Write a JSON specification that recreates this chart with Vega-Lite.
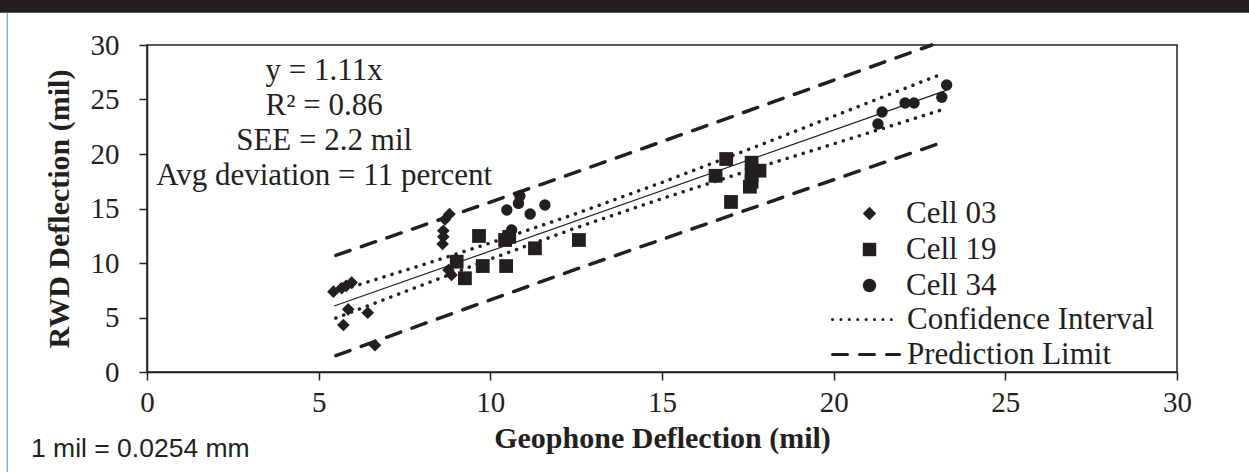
{
  "$schema": "https://vega.github.io/schema/vega-lite/v6.json",
  "width": 1030,
  "height": 327,
  "autosize": {"type": "none"},
  "padding": {"left": 147, "top": 45, "right": 72, "bottom": 100},
  "background": "white",
  "config": {
    "view": {"stroke": "#231f20", "strokeWidth": 1.5},
    "font": "Liberation Serif",
    "axis": {
      "grid": false,
      "domainColor": "#231f20",
      "domainWidth": 1.5,
      "tickColor": "#231f20",
      "tickWidth": 1.5,
      "tickSize": 8,
      "labelFont": "Liberation Serif",
      "labelFontSize": 29,
      "labelColor": "#231f20",
      "titleFont": "Liberation Serif",
      "titleFontSize": 30,
      "titleFontWeight": "bold",
      "titleColor": "#231f20"
    },
    "legend": {
      "labelFont": "Liberation Serif",
      "labelFontSize": 31,
      "labelColor": "#231f20",
      "labelLimit": 400,
      "title": null
    }
  },
  "datasets": {
    "points": [
      {"cell": "Cell 03", "geophone": 5.43, "rwd": 7.37},
      {"cell": "Cell 03", "geophone": 5.67, "rwd": 7.7},
      {"cell": "Cell 03", "geophone": 5.8, "rwd": 7.9},
      {"cell": "Cell 03", "geophone": 5.96, "rwd": 8.2},
      {"cell": "Cell 03", "geophone": 5.86, "rwd": 5.75},
      {"cell": "Cell 03", "geophone": 6.43, "rwd": 5.44},
      {"cell": "Cell 03", "geophone": 5.72, "rwd": 4.31},
      {"cell": "Cell 03", "geophone": 6.64, "rwd": 2.45},
      {"cell": "Cell 03", "geophone": 8.81, "rwd": 14.5},
      {"cell": "Cell 03", "geophone": 8.68, "rwd": 14.0},
      {"cell": "Cell 03", "geophone": 8.63, "rwd": 12.96},
      {"cell": "Cell 03", "geophone": 8.63, "rwd": 12.4},
      {"cell": "Cell 03", "geophone": 8.61, "rwd": 11.74},
      {"cell": "Cell 03", "geophone": 8.78, "rwd": 9.36},
      {"cell": "Cell 03", "geophone": 8.87, "rwd": 8.9},
      {"cell": "Cell 19", "geophone": 9.02, "rwd": 10.12},
      {"cell": "Cell 19", "geophone": 9.26, "rwd": 8.6},
      {"cell": "Cell 19", "geophone": 9.67, "rwd": 12.48},
      {"cell": "Cell 19", "geophone": 9.78, "rwd": 9.72},
      {"cell": "Cell 19", "geophone": 10.46, "rwd": 9.72},
      {"cell": "Cell 19", "geophone": 10.43, "rwd": 12.11},
      {"cell": "Cell 19", "geophone": 10.55, "rwd": 12.4},
      {"cell": "Cell 19", "geophone": 11.3, "rwd": 11.35},
      {"cell": "Cell 19", "geophone": 12.58, "rwd": 12.11},
      {"cell": "Cell 19", "geophone": 16.56, "rwd": 18.0},
      {"cell": "Cell 19", "geophone": 16.87, "rwd": 19.54},
      {"cell": "Cell 19", "geophone": 17.01, "rwd": 15.6},
      {"cell": "Cell 19", "geophone": 17.56, "rwd": 17.0},
      {"cell": "Cell 19", "geophone": 17.61, "rwd": 17.46},
      {"cell": "Cell 19", "geophone": 17.61, "rwd": 18.07},
      {"cell": "Cell 19", "geophone": 17.61, "rwd": 19.2},
      {"cell": "Cell 19", "geophone": 17.84, "rwd": 18.47},
      {"cell": "Cell 34", "geophone": 10.48, "rwd": 14.86},
      {"cell": "Cell 34", "geophone": 10.62, "rwd": 13.03},
      {"cell": "Cell 34", "geophone": 10.82, "rwd": 15.47},
      {"cell": "Cell 34", "geophone": 10.86, "rwd": 16.15},
      {"cell": "Cell 34", "geophone": 11.16, "rwd": 14.5},
      {"cell": "Cell 34", "geophone": 11.59, "rwd": 15.32},
      {"cell": "Cell 34", "geophone": 21.29, "rwd": 22.75},
      {"cell": "Cell 34", "geophone": 21.41, "rwd": 23.85},
      {"cell": "Cell 34", "geophone": 22.08, "rwd": 24.68},
      {"cell": "Cell 34", "geophone": 22.34, "rwd": 24.68},
      {"cell": "Cell 34", "geophone": 23.15, "rwd": 25.2},
      {"cell": "Cell 34", "geophone": 23.29, "rwd": 26.33}
    ],
    "fit": [
      {"geophone": 5.45, "rwd": 6.05},
      {"geophone": 23.3, "rwd": 25.86}
    ],
    "bands": [
      {"series": "Confidence Interval", "part": "CI upper", "geophone": 5.5, "rwd": 7.35},
      {"series": "Confidence Interval", "part": "CI upper", "geophone": 8, "rwd": 9.8},
      {"series": "Confidence Interval", "part": "CI upper", "geophone": 10, "rwd": 11.84},
      {"series": "Confidence Interval", "part": "CI upper", "geophone": 12.5, "rwd": 14.53},
      {"series": "Confidence Interval", "part": "CI upper", "geophone": 15, "rwd": 17.39},
      {"series": "Confidence Interval", "part": "CI upper", "geophone": 18, "rwd": 21.0},
      {"series": "Confidence Interval", "part": "CI upper", "geophone": 21, "rwd": 24.7},
      {"series": "Confidence Interval", "part": "CI upper", "geophone": 23.2, "rwd": 27.4},
      {"series": "Confidence Interval", "part": "CI lower", "geophone": 5.5, "rwd": 4.95},
      {"series": "Confidence Interval", "part": "CI lower", "geophone": 8, "rwd": 7.96},
      {"series": "Confidence Interval", "part": "CI lower", "geophone": 10, "rwd": 10.36},
      {"series": "Confidence Interval", "part": "CI lower", "geophone": 12.5, "rwd": 13.23},
      {"series": "Confidence Interval", "part": "CI lower", "geophone": 15, "rwd": 15.91},
      {"series": "Confidence Interval", "part": "CI lower", "geophone": 18, "rwd": 18.96},
      {"series": "Confidence Interval", "part": "CI lower", "geophone": 21, "rwd": 21.92},
      {"series": "Confidence Interval", "part": "CI lower", "geophone": 23.2, "rwd": 24.1},
      {"series": "Prediction Limit", "part": "PI upper", "geophone": 5.5, "rwd": 10.7},
      {"series": "Prediction Limit", "part": "PI upper", "geophone": 9, "rwd": 14.49},
      {"series": "Prediction Limit", "part": "PI upper", "geophone": 12.5, "rwd": 18.33},
      {"series": "Prediction Limit", "part": "PI upper", "geophone": 16, "rwd": 22.26},
      {"series": "Prediction Limit", "part": "PI upper", "geophone": 19.5, "rwd": 26.2},
      {"series": "Prediction Limit", "part": "PI upper", "geophone": 22.86, "rwd": 30.0},
      {"series": "Prediction Limit", "part": "PI lower", "geophone": 5.5, "rwd": 1.5},
      {"series": "Prediction Limit", "part": "PI lower", "geophone": 9, "rwd": 5.49},
      {"series": "Prediction Limit", "part": "PI lower", "geophone": 12.5, "rwd": 9.43},
      {"series": "Prediction Limit", "part": "PI lower", "geophone": 16, "rwd": 13.26},
      {"series": "Prediction Limit", "part": "PI lower", "geophone": 19.5, "rwd": 17.1},
      {"series": "Prediction Limit", "part": "PI lower", "geophone": 23.2, "rwd": 21.1}
    ]
  },
  "layer": [
    {
      "data": {"values": [{}]},
      "mark": {"type": "rect", "color": "#231f20", "clip": false},
      "encoding": {
        "x": {"datum": -4.3, "type": "quantitative", "scale": {"domain": [0, 30]}},
        "x2": {"datum": 32.2},
        "y": {"datum": 32.95, "type": "quantitative", "scale": {"domain": [0, 30]}},
        "y2": {"datum": 34.3}
      }
    },
    {
      "data": {"values": [{}]},
      "mark": {"type": "rule", "color": "#7fb3e0", "strokeWidth": 1.5, "clip": false},
      "encoding": {
        "x": {"datum": -4.07, "type": "quantitative", "scale": {"domain": [0, 30]}},
        "y": {"datum": 32.95, "type": "quantitative", "scale": {"domain": [0, 30]}},
        "y2": {"datum": -9.3}
      }
    },
    {
      "data": {"name": "fit"},
      "mark": {"type": "line", "color": "#231f20", "strokeWidth": 1.2},
      "encoding": {
        "x": {"field": "geophone", "type": "quantitative", "scale": {"domain": [0, 30]}},
        "y": {"field": "rwd", "type": "quantitative", "scale": {"domain": [0, 30]}}
      }
    },
    {
      "data": {"name": "bands"},
      "mark": {"type": "line", "color": "#231f20", "strokeWidth": 3.5, "strokeCap": "round"},
      "encoding": {
        "x": {"field": "geophone", "type": "quantitative", "scale": {"domain": [0, 30]}},
        "y": {"field": "rwd", "type": "quantitative", "scale": {"domain": [0, 30]}},
        "detail": {"field": "part"},
        "strokeDash": {
          "field": "series",
          "type": "nominal",
          "scale": {"domain": ["Confidence Interval", "Prediction Limit"], "range": [[0.1, 8.3], [15, 12]]},
          "legend": {
            "orient": "none",
            "legendX": 703.5,
            "legendY": 259,
            "symbolType": "M-6.7,0H6.7",
            "symbolSize": 100,
            "symbolStrokeWidth": 3,
            "symbolStrokeColor": "#231f20",
            "labelOffset": 25.5,
            "rowPadding": 3,
            "encode": {"symbols": {"update": {"strokeCap": {"value": "round"}}}}
          }
        }
      }
    },
    {
      "data": {"name": "points"},
      "transform": [{"filter": "datum.cell === 'Cell 03'"}],
      "mark": {"type": "point", "filled": true, "opacity": 1, "color": "#231f20", "strokeWidth": 0, "size": 160},
      "encoding": {
        "x": {
          "field": "geophone",
          "type": "quantitative",
          "title": "Geophone Deflection (mil)",
          "scale": {"domain": [0, 30], "nice": false},
          "axis": {"values": [0, 5, 10, 15, 20, 25, 30], "labelPadding": 8, "titlePadding": 6, "labelFlush": false}
        },
        "y": {
          "field": "rwd",
          "type": "quantitative",
          "title": "RWD Deflection (mil)",
          "scale": {"domain": [0, 30], "nice": false},
          "axis": {"values": [0, 5, 10, 15, 20, 25, 30], "labelPadding": 20, "titlePadding": 16, "labelFlush": false}
        },
        "shape": {
          "field": "cell",
          "type": "nominal",
          "scale": {"domain": ["Cell 03", "Cell 19", "Cell 34"], "range": ["diamond", "square", "circle"]},
          "legend": {
            "orient": "none",
            "legendX": 707,
            "legendY": 153,
            "symbolSize": 180,
            "symbolFillColor": "#231f20",
            "symbolStrokeWidth": 0,
            "labelOffset": 21,
            "rowPadding": 4
          }
        }
      }
    },
    {
      "data": {"name": "points"},
      "transform": [{"filter": "datum.cell === 'Cell 19'"}],
      "mark": {"type": "point", "filled": true, "opacity": 1, "color": "#231f20", "strokeWidth": 0, "size": 190},
      "encoding": {
        "x": {"field": "geophone", "type": "quantitative", "scale": {"domain": [0, 30]}},
        "y": {"field": "rwd", "type": "quantitative", "scale": {"domain": [0, 30]}},
        "shape": {"field": "cell", "type": "nominal"}
      }
    },
    {
      "data": {"name": "points"},
      "transform": [{"filter": "datum.cell === 'Cell 34'"}],
      "mark": {"type": "point", "filled": true, "opacity": 1, "color": "#231f20", "strokeWidth": 0, "size": 130},
      "encoding": {
        "x": {"field": "geophone", "type": "quantitative", "scale": {"domain": [0, 30]}},
        "y": {"field": "rwd", "type": "quantitative", "scale": {"domain": [0, 30]}},
        "shape": {"field": "cell", "type": "nominal"}
      }
    },
    {
      "data": {"values": [{}]},
      "mark": {
        "type": "text",
        "font": "Liberation Serif",
        "fontSize": 31,
        "color": "#231f20",
        "align": "center",
        "baseline": "top",
        "lineHeight": 35,
        "text": ["y = 1.11x", "R² = 0.86", "SEE = 2.2 mil", "Avg deviation = 11 percent"]
      },
      "encoding": {
        "x": {"datum": 5.16, "type": "quantitative", "scale": {"domain": [0, 30]}},
        "y": {"datum": 28.98, "type": "quantitative", "scale": {"domain": [0, 30]}}
      }
    },
    {
      "data": {"values": [{}]},
      "mark": {
        "type": "text",
        "font": "Liberation Sans",
        "fontSize": 26.5,
        "color": "#231f20",
        "align": "left",
        "baseline": "middle",
        "text": "1 mil = 0.0254 mm"
      },
      "encoding": {
        "x": {"datum": -3.38, "type": "quantitative", "scale": {"domain": [0, 30]}},
        "y": {"datum": -7.06, "type": "quantitative", "scale": {"domain": [0, 30]}}
      }
    }
  ]
}
